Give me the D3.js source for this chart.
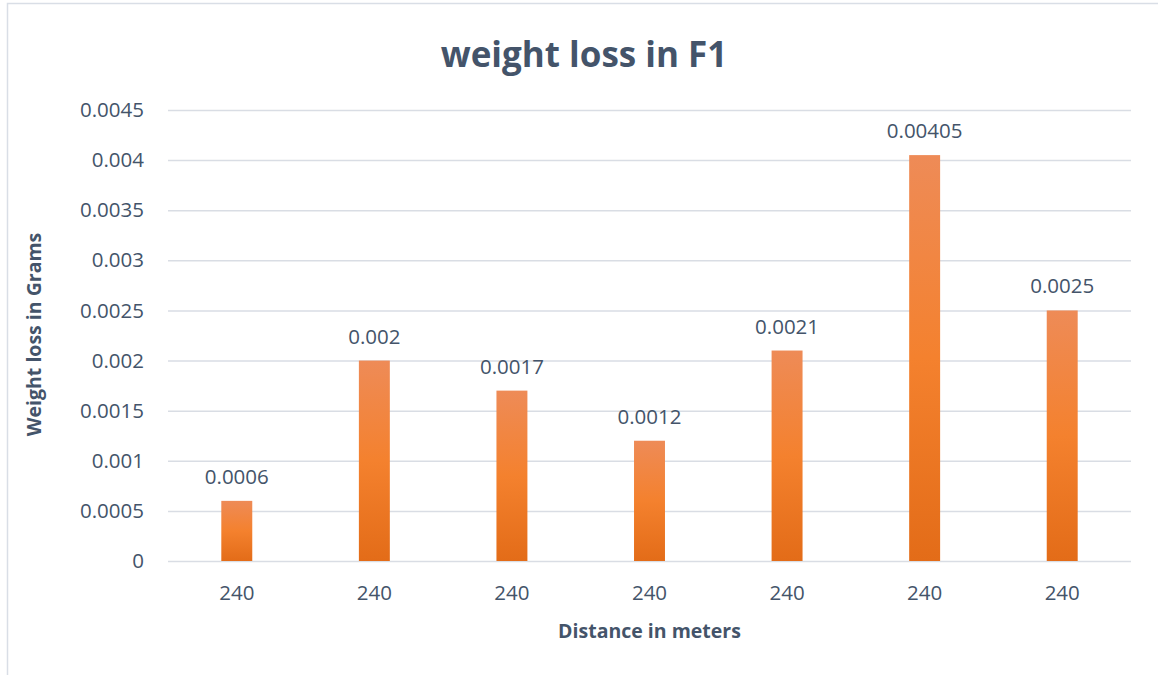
<!DOCTYPE html>
<html>
<head>
<meta charset="utf-8">
<script src="https://cdn.jsdelivr.net/npm/d3@7"></script>
<style>
  html, body { margin: 0; padding: 0; background: #fff; }
  svg { display: block; }
</style>
</head>
<body>
<svg id="chart" width="1158" height="675"></svg>
<script>
// Weight loss per run, all at a distance of 240 m
const categories = ["240", "240", "240", "240", "240", "240", "240"];
const values = [0.0006, 0.002, 0.0017, 0.0012, 0.0021, 0.00405, 0.0025];
const valueLabels = ["0.0006", "0.002", "0.0017", "0.0012", "0.0021", "0.00405", "0.0025"];
const yTicks = [0, 0.0005, 0.001, 0.0015, 0.002, 0.0025, 0.003, 0.0035, 0.004, 0.0045];
const yTickLabels = ["0", "0.0005", "0.001", "0.0015", "0.002", "0.0025", "0.003", "0.0035", "0.004", "0.0045"];

const textColor = "#44546A";
const gridColor = "#D9DDE4";
const font = "'Open Sans', 'DejaVu Sans', sans-serif";

const svg = d3.select("#chart");
const W = 1158, H = 675;
const margin = { left: 168, right: 27, top: 110, bottom: 114 };
const plotW = W - margin.left - margin.right;
const plotH = H - margin.top - margin.bottom;

// chart frame
svg.append("rect")
  .attr("x", 7.5).attr("y", 3.5)
  .attr("width", W + 10).attr("height", H + 10)
  .attr("fill", "#fff")
  .attr("stroke", "#D9DEE6").attr("stroke-width", 1.5);

const defs = svg.append("defs");
const grad = defs.append("linearGradient")
  .attr("id", "barGrad").attr("x1", 0).attr("y1", 0).attr("x2", 0).attr("y2", 1);
grad.append("stop").attr("offset", "0%").attr("stop-color", "#EE8B57");
grad.append("stop").attr("offset", "50%").attr("stop-color", "#F4812E");
grad.append("stop").attr("offset", "100%").attr("stop-color", "#E36C18");

const g = svg.append("g").attr("transform", `translate(${margin.left},${margin.top})`);

const x = d3.scaleBand()
  .domain(categories.map((c, i) => i))
  .range([0, plotW])
  .paddingInner(0.775)
  .paddingOuter(0.3875);

const y = d3.scaleLinear().domain([0, 0.0045]).range([plotH, 0]);

// horizontal gridlines with y tick labels
const yAxis = d3.axisLeft(y)
  .tickValues(yTicks)
  .tickFormat((d, i) => yTickLabels[i])
  .tickSize(-plotW)
  .tickPadding(24);

const yG = g.append("g").call(yAxis);
yG.select(".domain").remove();
yG.selectAll(".tick line").attr("stroke", gridColor).attr("stroke-width", 1.5);
yG.selectAll(".tick text")
  .attr("fill", textColor)
  .style("font-family", font)
  .style("font-size", "20.5px");

// x axis labels
const xAxis = d3.axisBottom(x)
  .tickFormat(i => categories[i])
  .tickSize(0)
  .tickPadding(24);
const xG = g.append("g").attr("transform", `translate(0,${plotH})`).call(xAxis);
xG.select(".domain").remove();
xG.selectAll(".tick text")
  .attr("fill", textColor)
  .style("font-family", font)
  .style("font-size", "20.5px");

// bars
g.selectAll("rect.bar")
  .data(values)
  .join("rect")
  .attr("class", "bar")
  .attr("x", (d, i) => x(i))
  .attr("width", x.bandwidth())
  .attr("y", d => y(d))
  .attr("height", d => plotH - y(d))
  .attr("fill", "url(#barGrad)");

// value labels above bars
g.selectAll("text.value")
  .data(values)
  .join("text")
  .attr("class", "value")
  .attr("x", (d, i) => x(i) + x.bandwidth() / 2)
  .attr("y", d => y(d) - 17)
  .attr("text-anchor", "middle")
  .attr("fill", textColor)
  .style("font-family", font)
  .style("font-size", "20.5px")
  .text((d, i) => valueLabels[i]);

// title
svg.append("text")
  .attr("x", 584).attr("y", 67)
  .attr("text-anchor", "middle")
  .attr("fill", textColor)
  .style("font-family", font)
  .style("font-weight", "bold")
  .style("font-size", "35px")
  .text("weight loss in F1");

// axis titles
svg.append("text")
  .attr("x", margin.left + plotW / 2 + 0).attr("y", 638)
  .attr("text-anchor", "middle")
  .attr("fill", textColor)
  .style("font-family", font)
  .style("font-weight", "bold")
  .style("font-size", "19.5px")
  .text("Distance in meters");

svg.append("text")
  .attr("transform", `translate(41,${margin.top + plotH / 2 - 1}) rotate(-90)`)
  .attr("text-anchor", "middle")
  .attr("fill", textColor)
  .style("font-family", font)
  .style("font-weight", "bold")
  .style("font-size", "19.5px")
  .text("Weight loss in Grams");
</script>
</body>
</html>
